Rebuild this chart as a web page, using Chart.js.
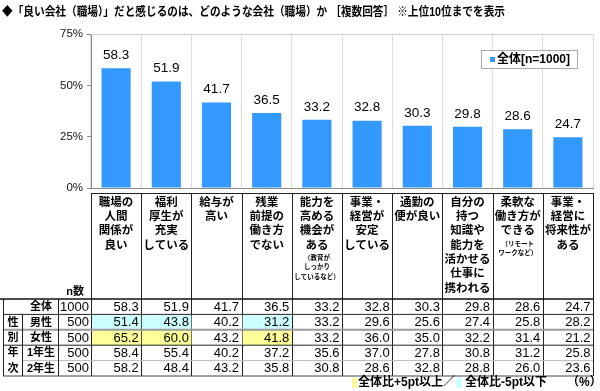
<!DOCTYPE html>
<html><head><meta charset="utf-8">
<script src="https://cdn.jsdelivr.net/npm/chart.js@4"></script>
<style>html,body{margin:0;padding:0;background:#fff}#wrap{width:600px;height:391px}</style>
</head><body><div id="wrap"><canvas id="c" width="600" height="391"></canvas></div>
<script>
const title = "◆「良い会社（職場）」だと感じるのは、どのような会社（職場）か ［複数回答］ ※上位10位までを表示";
const categories = [
  ["職場の","人間","関係が","良い"],
  ["福利","厚生が","充実","している"],
  ["給与が","高い"],
  ["残業","前提の","働き方","でない"],
  ["能力を","高める","機会が","ある"],
  ["事業・","経営が","安定","している"],
  ["通勤の","便が良い"],
  ["自分の","持つ","知識や","能力を","活かせる","仕事に","携われる"],
  ["柔軟な","働き方が","できる"],
  ["事業・","経営に","将来性が","ある"]
];
const categoryNotes = [[],[],[],[],["（教育が","しっかり","しているなど）"],[],[],[],["（リモート","ワークなど）"],[]];
const seriesLabel = "全体[n=1000]";
const overall = [58.3, 51.9, 41.7, 36.5, 33.2, 32.8, 30.3, 29.8, 28.6, 24.7];
const male    = [51.4, 43.8, 40.2, 31.2, 33.2, 29.6, 25.6, 27.4, 25.8, 28.2];
const female  = [65.2, 60.0, 43.2, 41.8, 33.2, 36.0, 35.0, 32.2, 31.4, 21.2];
const year1   = [58.4, 55.4, 40.2, 37.2, 35.6, 37.0, 27.8, 30.8, 31.2, 25.8];
const year2   = [58.2, 48.4, 43.2, 35.8, 30.8, 28.6, 32.8, 28.8, 26.0, 23.6];
const rowLabels = ["全体","男性","女性","1年生","2年生"];
const groupChars = ["","性","別","年","次"];
const rowN = [1000, 500, 500, 500, 500];
const nHeader = "n数";
const yMin = 0, yMax = 75, yStep = 25;
const footerHigh = "全体比+5pt以上／";
const footerLow = "全体比-5pt以下";
const footerUnit = "（%）";

const tableRows = [overall, male, female, year1, year2];
const MIX = '"Liberation Sans", "Noto Sans CJK JP", sans-serif';
const BAR = '#3399ff';

const drawPlugin = {
  id: 'extras',
  afterDraw(chart) {
    const ctx = chart.ctx;
    const ca = chart.chartArea;
    const xs = chart.scales.x;
    const half = (xs.getPixelForValue(1) - xs.getPixelForValue(0)) / 2;
    ctx.save();
    ctx.strokeStyle = '#cfcfcf'; ctx.lineWidth = 1;
    ctx.beginPath(); ctx.moveTo(ca.left, ca.top + 0.5); ctx.lineTo(ca.right, ca.top + 0.5); ctx.stroke();

    const meta = chart.getDatasetMeta(0);
    ctx.fillStyle = '#000'; ctx.font = '13.5px ' + MIX;
    ctx.textAlign = 'center'; ctx.textBaseline = 'middle';
    meta.data.forEach((bar, i) => {
      ctx.fillText(overall[i].toFixed(1), bar.x, bar.y - 13);
    });

    ctx.fillStyle = '#fff'; ctx.strokeStyle = '#aaaaaa';
    ctx.fillRect(481, 50, 96, 18); ctx.strokeRect(481.5, 50.5, 96, 18);
    ctx.fillStyle = BAR; ctx.fillRect(490, 57, 5, 5);
    ctx.fillStyle = '#000'; ctx.font = 'bold 12px ' + MIX; ctx.textAlign = 'left';
    ctx.fillText(seriesLabel, 497, 60);

    ctx.font = 'bold 12px ' + MIX;
    const tw = ctx.measureText(title).width;
    const target = 503;
    ctx.save();
    ctx.translate(2, 13);
    if (tw > target) ctx.scale(target / tw, 1);
    ctx.fillText(title, 0, 0);
    ctx.restore();

    const boxTop = 193, tTop = 299, rowH = 15.4, tBottom = tTop + rowH * 5;
    ctx.strokeStyle = '#222'; ctx.lineWidth = 1;
    ctx.beginPath(); ctx.moveTo(ca.left, boxTop + 0.5); ctx.lineTo(ca.right, boxTop + 0.5); ctx.stroke();
    for (let i = 0; i <= categories.length; i++) {
      const bx = Math.round(i < categories.length ? xs.getPixelForValue(i) - half : xs.getPixelForValue(i - 1) + half) + 0.5;
      ctx.beginPath(); ctx.moveTo(bx, boxTop); ctx.lineTo(bx, tBottom); ctx.stroke();
    }
    ctx.fillStyle = '#000'; ctx.textAlign = 'center';
    categories.forEach((lines, i) => {
      const cx = xs.getPixelForValue(i);
      ctx.font = 'bold 11.5px ' + MIX;
      let y = 202.7;
      lines.forEach((l, k) => { ctx.fillText(l, cx, y + k * 14.3); });
      const last = y + (lines.length - 1) * 14.3;
      ctx.font = 'bold 6.5px ' + MIX;
      categoryNotes[i].forEach((l, k) => { ctx.fillText(l, cx, last + 12.5 + k * 9.6); });
    });

    const colG0 = 3, colG1 = 22, colL1 = 58, colN1 = ca.left;
    for (let r = 1; r < tableRows.length; r++) {
      tableRows[r].forEach((v, i) => {
        const d = v - overall[i];
        let col = null;
        if (d >= 5) col = '#ffff99'; else if (d <= -5) col = '#ccffff';
        if (col) {
          const l = xs.getPixelForValue(i) - half, rr = xs.getPixelForValue(i) + half;
          ctx.fillStyle = col;
          ctx.fillRect(l + 1, tTop + r * rowH + 1, rr - l - 1, rowH - 1);
        }
      });
    }
    const hl = (y, x0, x1, color, w) => {
      ctx.strokeStyle = color; ctx.lineWidth = w;
      ctx.beginPath(); ctx.moveTo(x0, y); ctx.lineTo(x1, y); ctx.stroke();
    };
    hl(tTop, 0, ca.right, '#111', 1.5);
    hl(tTop + rowH, colG0, ca.right, '#222', 1);
    hl(tTop + rowH * 2, colG0, ca.right, '#9a9a9a', 2);
    hl(tTop + rowH * 3, colG0, ca.right, '#222', 1);
    hl(tTop + rowH * 4, colG1, ca.right, '#bbbbbb', 1);
    hl(tBottom, colG0, ca.right, '#444', 1);
    ctx.strokeStyle = '#222'; ctx.lineWidth = 1;
    [[colG0, tTop, tBottom], [colG1, tTop + rowH, tBottom], [colL1, tTop, tBottom]].forEach(([x, a, b]) => {
      ctx.beginPath(); ctx.moveTo(x + 0.5, a); ctx.lineTo(x + 0.5, b); ctx.stroke();
    });
    ctx.fillStyle = '#000'; ctx.textBaseline = 'middle';
    ctx.font = 'bold 11px ' + MIX; ctx.textAlign = 'right';
    ctx.fillText(nHeader, 84, 292);
    tableRows.forEach((vals, r) => {
      const cy = tTop + r * rowH + rowH / 2 + 0.5;
      ctx.font = 'bold 11px ' + MIX; ctx.textAlign = 'center';
      ctx.fillText(rowLabels[r], (colG1 + colL1) / 2 + 1, cy);
      if (groupChars[r]) ctx.fillText(groupChars[r], (colG0 + colG1) / 2 + 0.5, cy);
      ctx.font = '13px ' + MIX; ctx.textAlign = 'right';
      ctx.fillText(String(rowN[r]), colN1 - 2, cy);
      vals.forEach((v, i) => {
        ctx.fillText(v.toFixed(1), xs.getPixelForValue(i) + half - 2.5, cy);
      });
    });
    const fy = 383;
    ctx.font = 'bold 12px ' + MIX; ctx.textAlign = 'left';
    let fx = 352;
    ctx.fillStyle = '#ffff99'; ctx.fillRect(fx, 378, 5, 10);
    fx += 6;
    ctx.fillStyle = '#000'; ctx.fillText(footerHigh, fx, fy);
    fx += ctx.measureText(footerHigh).width + 1;
    ctx.fillStyle = '#ccffff'; ctx.fillRect(fx, 378, 6, 10);
    fx += 9;
    ctx.fillStyle = '#000'; ctx.fillText(footerLow, fx, fy);
    ctx.fillText(footerUnit, 567, fy);
    ctx.restore();
  }
};

new Chart(document.getElementById('c'), {
  type: 'bar',
  data: {
    labels: categories.map(c => c.join('')),
    datasets: [{ label: seriesLabel, data: overall, backgroundColor: BAR, borderWidth: 0,
      barPercentage: 0.58, categoryPercentage: 1 }]
  },
  options: {
    responsive: false, animation: false, devicePixelRatio: 1,
    layout: { padding: { top: 34, right: 7, bottom: 203, left: 0 } },
    plugins: { legend: { display: false }, tooltip: { enabled: false }, title: { display: false } },
    scales: {
      x: {
        ticks: { display: false },
        grid: { color: '#dcdcdc', offset: true, drawTicks: false },
        border: { color: '#8a8a8a' },
        afterFit: s => { s.height = 0; }
      },
      y: {
        min: yMin, max: yMax,
        ticks: { stepSize: yStep, callback: v => v + '%', color: '#111', font: { family: MIX, size: 11.5 }, padding: 4 },
        grid: { drawOnChartArea: false, tickColor: '#8a8a8a', tickLength: 4 },
        border: { color: '#8a8a8a' },
        afterFit: s => { s.width = 91; }
      }
    }
  },
  plugins: [drawPlugin]
});
</script>
</body></html>
